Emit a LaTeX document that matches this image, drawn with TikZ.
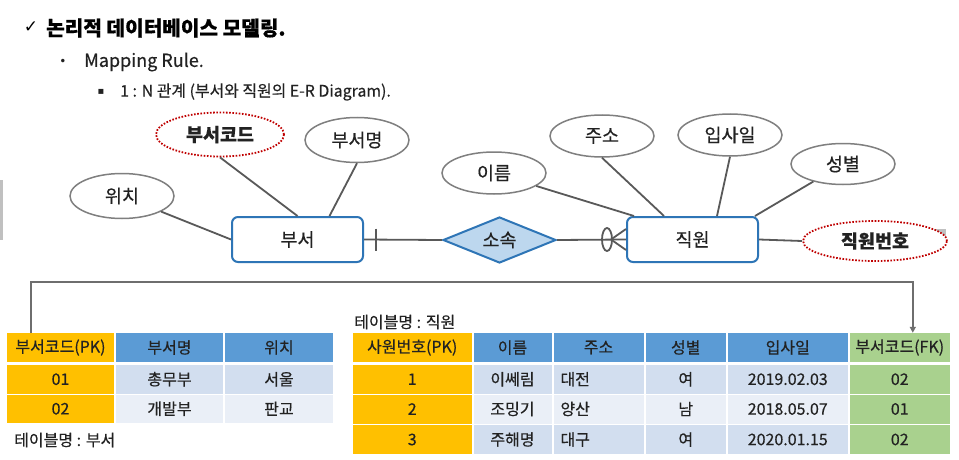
\documentclass[tikz,border=0pt]{standalone}
\usepackage{fontspec}
\setmainfont{Noto Sans CJK KR}[FakeBold=0.4]
\newfontfamily\symfont{DejaVu Sans}
\usetikzlibrary{shapes.geometric,calc,arrows.meta}
\definecolor{txt}{HTML}{222222}
\definecolor{attrgray}{HTML}{7F7F7F}
\definecolor{linegray}{HTML}{595959}
\definecolor{conngray}{HTML}{6E6E6E}
\definecolor{keyred}{HTML}{C00000}
\definecolor{entblue}{HTML}{2E75B6}
\definecolor{relfill}{HTML}{BDD7EE}
\definecolor{orng}{HTML}{FFC000}
\definecolor{hblue}{HTML}{5B9BD5}
\definecolor{rdark}{HTML}{D2DEEF}
\definecolor{rlight}{HTML}{EAEFF7}
\definecolor{grn}{HTML}{A9D18E}
\definecolor{edgegray}{HTML}{C0C0C0}
\begin{document}
\begin{tikzpicture}[x=1pt,y=-1pt,
  attr/.style={ellipse, draw=attrgray, line width=1.5pt, fill=white, inner sep=0pt,
    minimum width=104pt, minimum height=43pt, text=txt, font=\fontsize{18.5}{21}\selectfont},
  keyattr/.style={attr, draw=keyred, line width=1.8pt, dash pattern=on 1.6pt off 1.6pt,
    font=\fontsize{18.5}{21}\selectfont\bfseries},
  ent/.style={rectangle, rounded corners=6pt, draw=entblue, line width=2pt, fill=white,
    minimum width=131pt, minimum height=45pt, inner sep=0pt, text=txt, font=\fontsize{18.5}{21}\selectfont},
  rel/.style={diamond, draw=entblue, fill=relfill, line width=2pt, inner sep=0pt,
    minimum width=113pt, minimum height=46pt, shape aspect=2.45, text=txt, font=\fontsize{18.5}{21}\selectfont},
  link/.style={draw=linegray, line width=1.8pt},
  cell/.style={rectangle, inner sep=0pt, text=txt, font=\fontsize{16}{19}\selectfont},
  plain/.style={inner sep=0pt, text=txt}
]
\useasboundingbox (0,0) rectangle (959,460);
\fill[white] (0,0) rectangle (959,460);
% screenshot edge artefacts
\fill[edgegray] (0,180) rectangle (3,240);
\fill[edgegray] (933,229) rectangle (946,239);

% headings
\node[plain, text=black, font=\symfont\bfseries\fontsize{17}{19}\selectfont] (chk) at (31,27.5) {✓};
\node[plain, text=black, anchor=west, font=\fontsize{20.2}{23}\selectfont\bfseries] (title) at (46,28) {논리적 데이터베이스 모델링.};
\node[plain, font=\symfont\fontsize{12}{14}\selectfont] (b1) at (63,62) {•};
\node[plain, anchor=west, font=\fontsize{18}{21}\selectfont] (l1) at (84,62) {Mapping Rule.};
\node[plain, font=\symfont\fontsize{10}{12}\selectfont] (b2) at (101,92) {▪};
\node[plain, anchor=west, font=\fontsize{15.9}{18}\selectfont] (l2) at (120,92) {1 : N 관계 (부서와 직원의 E-R Diagram).};

% ER diagram
\node[ent] (busu) at (297.5,239.5) {부서};
\node[ent] (jikwon) at (692.5,239.5) {직원};
\node[rel] (sosok) at (499.5,240) {소속};
\node[keyattr, minimum width=128pt, minimum height=44pt] (bscode) at (220,134.5) {부서코드};
\node[attr, minimum height=45pt] (bsname) at (357,140) {부서명};
\node[attr, minimum height=45pt] (wichi) at (122,196) {위치};
\node[attr, minimum height=42pt] (ireum) at (494,173) {이름};
\node[attr, minimum height=42pt] (juso) at (602,136) {주소};
\node[attr, minimum height=42pt] (ipsa) at (730,135) {입사일};
\node[attr, minimum height=41pt] (sungbyul) at (843,164) {성별};
\node[keyattr, minimum width=144pt, minimum height=40pt] (jikno) at (875,241) {직원번호};

\draw[link] (wichi) -- (busu.west);
\draw[link] (bscode.south) -- (busu.north);
\draw[link] (bsname.south) -- ($(busu.north)+(32,0)$);
\draw[link] (ireum) -- ($(jikwon.north west)+(8,0)$);
\draw[link] (juso.south) -- ($(jikwon.north west)+(38,0)$);
\draw[link] (ipsa.south) -- ($(jikwon.north west)+(91,0)$);
\draw[link] (sungbyul) -- ($(jikwon.north east)+(-4,0)$);
\draw[link] (jikwon.east) -- (jikno.west);
% 1 side
\draw[link] (busu.east) -- (sosok.west);
\draw[link] ($(busu.east)+(12,-11)$) -- ($(busu.east)+(12,11)$);
% N side
\draw[link] (sosok.east) -- (jikwon.west);
\draw[link] ($(jikwon.west)+(-15,0)$) -- ($(jikwon.west)+(0,-10.5)$);
\draw[link] ($(jikwon.west)+(-15,0)$) -- ($(jikwon.west)+(0,10.5)$);
\draw[link] ($(jikwon.west)+(-19,0)$) ellipse [x radius=5, y radius=11.5];

% table 1 : 부서
\node[cell, fill=orng, minimum width=107pt, minimum height=29pt] (t1h1) at (60.5,347.5) {부서코드(PK)};
\node[cell, fill=hblue, minimum width=107pt, minimum height=29pt] (t1h2) at (169.5,347.5) {부서명};
\node[cell, fill=hblue, minimum width=108pt, minimum height=29pt] (t1h3) at (279,347.5) {위치};
\node[cell, fill=orng, minimum width=107pt, minimum height=28.5pt] (t1a1) at (60.5,379.25) {01};
\node[cell, fill=rdark, minimum width=107pt, minimum height=28.5pt] (t1a2) at (169.5,379.25) {총무부};
\node[cell, fill=rdark, minimum width=108pt, minimum height=28.5pt] (t1a3) at (279,379.25) {서울};
\node[cell, fill=orng, minimum width=107pt, minimum height=28.5pt] (t1b1) at (60.5,408.75) {02};
\node[cell, fill=rlight, minimum width=107pt, minimum height=28.5pt] (t1b2) at (169.5,408.75) {개발부};
\node[cell, fill=rlight, minimum width=108pt, minimum height=28.5pt] (t1b3) at (279,408.75) {판교};
\node[plain, anchor=west, font=\fontsize{16}{19}\selectfont] (cap1) at (14,440) {테이블명 : 부서};

% table 2 : 직원
\node[plain, anchor=west, font=\fontsize{16}{19}\selectfont] (cap2) at (354,322) {테이블명 : 직원};
\node[cell, fill=orng, minimum width=118.5pt, minimum height=29pt] (t2h1) at (412.25,347.5) {사원번호(PK)};
\node[cell, fill=hblue, minimum width=78pt, minimum height=29pt] (t2h2) at (512.5,347.5) {이름};
\node[cell, fill=hblue, minimum width=90pt, minimum height=29pt] (t2h3) at (598.5,347.5) {주소};
\node[cell, fill=hblue, minimum width=80.5pt, minimum height=29pt] (t2h4) at (685.75,347.5) {성별};
\node[cell, fill=hblue, minimum width=119.5pt, minimum height=29pt] (t2h5) at (787.75,347.5) {입사일};
\node[cell, fill=grn, minimum width=100.5pt, minimum height=29pt] (t2h6) at (899.75,347.5) {부서코드(FK)};

\node[cell, fill=orng, minimum width=118.5pt, minimum height=28.5pt] (t2a1) at (412.25,379.25) {1};
\node[cell, fill=rdark, minimum width=78pt, minimum height=28.5pt] (t2a2) at (512.5,379.25) {이쎄림};
\node[cell, fill=rdark, minimum width=90pt, minimum height=28.5pt, text width=76pt, inner xsep=7pt, align=left] (t2a3) at (598.5,379.25) {대전};
\node[cell, fill=rdark, minimum width=80.5pt, minimum height=28.5pt] (t2a4) at (685.75,379.25) {여};
\node[cell, fill=rdark, minimum width=119.5pt, minimum height=28.5pt] (t2a5) at (787.75,379.25) {2019.02.03};
\node[cell, fill=grn, minimum width=100.5pt, minimum height=28.5pt] (t2a6) at (899.75,379.25) {02};

\node[cell, fill=orng, minimum width=118.5pt, minimum height=29pt] (t2b1) at (412.25,409) {2};
\node[cell, fill=rlight, minimum width=78pt, minimum height=29pt] (t2b2) at (512.5,409) {조밍기};
\node[cell, fill=rlight, minimum width=90pt, minimum height=29pt, text width=76pt, inner xsep=7pt, align=left] (t2b3) at (598.5,409) {양산};
\node[cell, fill=rlight, minimum width=80.5pt, minimum height=29pt] (t2b4) at (685.75,409) {남};
\node[cell, fill=rlight, minimum width=119.5pt, minimum height=29pt] (t2b5) at (787.75,409) {2018.05.07};
\node[cell, fill=grn, minimum width=100.5pt, minimum height=29pt] (t2b6) at (899.75,409) {01};

\node[cell, fill=orng, minimum width=118.5pt, minimum height=29pt] (t2c1) at (412.25,439.5) {3};
\node[cell, fill=rdark, minimum width=78pt, minimum height=29pt] (t2c2) at (512.5,439.5) {주해명};
\node[cell, fill=rdark, minimum width=90pt, minimum height=29pt, text width=76pt, inner xsep=7pt, align=left] (t2c3) at (598.5,439.5) {대구};
\node[cell, fill=rdark, minimum width=80.5pt, minimum height=29pt] (t2c4) at (685.75,439.5) {여};
\node[cell, fill=rdark, minimum width=119.5pt, minimum height=29pt] (t2c5) at (787.75,439.5) {2020.01.15};
\node[cell, fill=grn, minimum width=100.5pt, minimum height=29pt] (t2c6) at (899.75,439.5) {02};

% FK reference
\draw[draw=conngray, line width=1.5pt, -{Triangle[length=6pt,width=6pt]}]
  ($(t1h1.north west)+(24,0)$) -- ++(0,-51) -| ($(t2h6.north west)+(63.5,0)$);
\end{tikzpicture}
\end{document}
